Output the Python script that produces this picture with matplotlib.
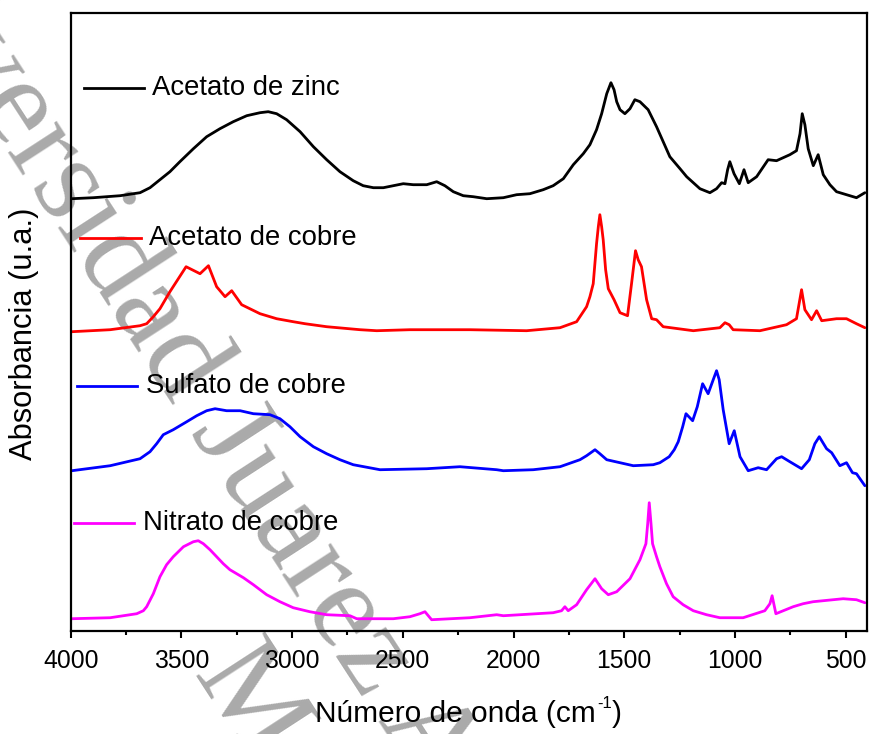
import matplotlib
matplotlib.use("Agg")
import matplotlib.pyplot as plt
from matplotlib.lines import Line2D

plt.rcParams['font.family'] = ['Liberation Sans', 'DejaVu Sans']

# FTIR spectra (stacked, arbitrary units)
zinc_acetate_wn = [3995, 3898, 3777, 3687, 3642, 3597, 3552, 3507, 3446, 3386, 3326, 3266,
                   3205, 3145, 3108, 3070, 3025, 2964, 2904, 2844, 2784, 2724, 2679, 2633,
                   2588, 2543, 2498, 2453, 2392, 2347, 2310, 2272, 2227, 2182, 2121, 2046,
                   1986, 1926, 1866, 1821, 1775, 1730, 1685, 1655, 1625, 1602, 1579, 1560,
                   1546, 1534, 1519, 1497, 1474, 1452, 1429, 1392, 1354, 1324, 1294, 1248,
                   1218, 1158, 1113, 1083, 1060, 1045, 1033, 1023, 1004, 980, 959, 940, 902,
                   850, 812, 752, 722, 706, 696, 684, 669, 646, 624, 601, 571, 541, 481, 451,
                   413]
zinc_acetate_abs = [4.32, 4.33, 4.35, 4.38, 4.43, 4.51, 4.59, 4.69, 4.82, 4.94, 5.02, 5.09,
                    5.15, 5.18, 5.19, 5.17, 5.11, 4.99, 4.84, 4.71, 4.59, 4.50, 4.45, 4.43,
                    4.43, 4.45, 4.47, 4.46, 4.46, 4.49, 4.45, 4.39, 4.35, 4.34, 4.32, 4.33,
                    4.36, 4.37, 4.41, 4.45, 4.52, 4.66, 4.77, 4.86, 5.01, 5.17, 5.37, 5.48,
                    5.41, 5.29, 5.21, 5.17, 5.22, 5.31, 5.29, 5.21, 5.04, 4.89, 4.74, 4.62,
                    4.54, 4.42, 4.38, 4.42, 4.48, 4.47, 4.61, 4.69, 4.57, 4.47, 4.61, 4.48, 4.54,
                    4.71, 4.70, 4.76, 4.80, 4.97, 5.17, 5.06, 4.82, 4.65, 4.76, 4.56, 4.46, 4.39,
                    4.35, 4.33, 4.38]

copper_acetate_wn = [3995, 3822, 3687, 3657, 3627, 3597, 3552, 3514, 3479, 3416, 3378, 3341,
                     3303, 3273, 3228, 3145, 3070, 2995, 2942, 2844, 2693, 2618, 2468, 2197,
                     1941, 1790, 1715, 1670, 1655, 1640, 1625, 1617, 1610, 1602, 1595, 1584,
                     1572, 1546, 1519, 1485, 1467, 1449, 1437, 1422, 1399, 1376, 1354, 1324,
                     1188, 1068, 1045, 1026, 1008, 887, 767, 722, 699, 684, 654, 631, 608,
                     541, 496, 451, 413]
copper_acetate_abs = [2.99, 3.01, 3.05, 3.07, 3.14, 3.22, 3.39, 3.52, 3.64, 3.57, 3.65, 3.44,
                      3.34, 3.40, 3.26, 3.17, 3.12, 3.09, 3.07, 3.04, 3.01, 3.00, 3.01, 3.01,
                      3.00, 3.03, 3.09, 3.24, 3.34, 3.47, 3.87, 4.04, 4.16, 4.04, 3.91, 3.61,
                      3.42, 3.31, 3.18, 3.15, 3.47, 3.80, 3.71, 3.64, 3.31, 3.12, 3.11, 3.04,
                      3.00, 3.03, 3.08, 3.06, 3.01, 3.00, 3.06, 3.12, 3.41, 3.21, 3.11, 3.20,
                      3.10, 3.12, 3.12, 3.07, 3.03]

copper_sulfate_wn = [3995, 3822, 3687, 3642, 3612, 3582, 3537, 3476, 3431, 3386, 3348, 3296,
                     3235, 3175, 3100, 3055, 3010, 2964, 2904, 2844, 2784, 2724, 2603, 2392,
                     2242, 2076, 2046, 1911, 1790, 1700, 1670, 1632, 1610, 1579, 1459, 1369,
                     1339, 1297, 1274, 1256, 1236, 1221, 1191, 1170, 1146, 1121, 1098, 1083,
                     1071, 1053, 1026, 1003, 977, 940, 895, 857, 812, 789, 752, 699, 664, 639,
                     619, 586, 563, 526, 496, 469, 451, 413]
copper_sulfate_abs = [1.60, 1.65, 1.72, 1.79, 1.87, 1.96, 2.01, 2.09, 2.15, 2.20, 2.22, 2.20,
                      2.20, 2.17, 2.16, 2.12, 2.04, 1.94, 1.84, 1.77, 1.71, 1.66, 1.61, 1.62,
                      1.64, 1.61, 1.60, 1.61, 1.64, 1.71, 1.75, 1.81, 1.77, 1.71, 1.65, 1.66,
                      1.68, 1.74, 1.81, 1.89, 2.04, 2.17, 2.10, 2.24, 2.47, 2.37, 2.51, 2.60,
                      2.51, 2.21, 1.87, 2.00, 1.74, 1.60, 1.63, 1.61, 1.72, 1.74, 1.69, 1.62,
                      1.71, 1.87, 1.94, 1.82, 1.78, 1.65, 1.68, 1.58, 1.57, 1.45]

copper_nitrate_wn = [3995, 3822, 3702, 3672, 3657, 3627, 3597, 3567, 3537, 3491, 3446, 3424,
                     3401, 3371, 3341, 3311, 3281, 3220, 3175, 3115, 3055, 2995, 2920, 2844,
                     2739, 2708, 2543, 2468, 2423, 2400, 2370, 2197, 2076, 2046, 1821, 1783,
                     1768, 1753, 1715, 1670, 1632, 1602, 1572, 1534, 1474, 1429, 1402, 1394,
                     1387, 1379, 1372, 1354, 1339, 1309, 1279, 1234, 1188, 1128, 1068, 963,
                     865, 842, 832, 815, 737, 692, 647, 511, 451, 413]
copper_nitrate_abs = [0.12, 0.13, 0.17, 0.20, 0.24, 0.37, 0.54, 0.66, 0.74, 0.84, 0.89, 0.90,
                      0.87, 0.81, 0.74, 0.67, 0.61, 0.53, 0.46, 0.36, 0.29, 0.23, 0.19, 0.16,
                      0.15, 0.12, 0.12, 0.14, 0.17, 0.19, 0.11, 0.13, 0.16, 0.15, 0.18, 0.20,
                      0.24, 0.20, 0.26, 0.41, 0.52, 0.42, 0.36, 0.39, 0.52, 0.71, 0.87, 1.07,
                      1.28, 1.07, 0.87, 0.74, 0.64, 0.47, 0.34, 0.26, 0.20, 0.16, 0.13, 0.13,
                      0.20, 0.27, 0.35, 0.17, 0.24, 0.27, 0.29, 0.32, 0.31, 0.28]

labels = ["Acetato de zinc", "Acetato de cobre", "Sulfato de cobre", "Nitrato de cobre"]
colors = ["#000000", "#ff0000", "#0000ff", "#ff00ff"]
xticks = [4000, 3500, 3000, 2500, 2000, 1500, 1000, 500]

series = [(zinc_acetate_wn, zinc_acetate_abs),
          (copper_acetate_wn, copper_acetate_abs),
          (copper_sulfate_wn, copper_sulfate_abs),
          (copper_nitrate_wn, copper_nitrate_abs)]

W, H = 869, 734
fig = plt.figure(figsize=(W / 100, H / 100), dpi=100)
ax = fig.add_axes([0.0814, 0.1407, 0.9159, 0.842])
ax.patch.set_alpha(0)
renderer = fig.canvas.get_renderer()


def fit_size(txt, span_px, vertical=False):
    """Rescale a text so that its rendered extent spans span_px pixels."""
    bb = txt.get_window_extent(renderer)
    cur = bb.height if vertical else bb.width
    txt.set_fontsize(txt.get_fontsize() * span_px / cur)


# Watermark behind the plot
wm = dict(fontsize=90, family=['Liberation Serif', 'DejaVu Serif'], color='#aaaaaa',
          rotation=-57, rotation_mode='anchor', ha='left', va='baseline', zorder=-5)
fig.text(-0.184, 1.145, "Universidad Juarez Autónoma", **wm)
fig.text(0.22, 0.08, "M", **wm)

for (wn, ab), c in zip(series, colors):
    ax.plot(wn, ab, color=c, lw=2.0, solid_joinstyle='round', solid_capstyle='round')

ax.set_xlim(4000, 405)
ax.set_ylim(0, 6.18)
ax.set_xticks(xticks)
ax.set_xticks(range(3750, 400, -500), minor=True)
ax.set_yticks([])
ax.tick_params(axis='x', which='major', direction='out', length=5, width=1.5,
               labelsize=17.8, pad=8)
ax.tick_params(axis='x', which='minor', direction='out', length=3.2, width=1.5)
for s in ax.spines.values():
    s.set_linewidth(1.6)

# Axis titles
yl = fig.text(24 / W, 1 - 334 / H, "Absorbancia (u.a.)", fontsize=22, rotation=90,
              ha='center', va='center')
fit_size(yl, 252, vertical=True)

xl = fig.text(315 / W, 1 - 721.7 / H, "Número de onda (cm", fontsize=20.4,
              ha='left', va='baseline')
fit_size(xl, 282)
bb = xl.get_window_extent(renderer)
sup = fig.text((bb.x1 + 1.0) / W, 1 - 708 / H, "-1", fontsize=12,
               ha='left', va='baseline')
bb2 = sup.get_window_extent(renderer)
fig.text((bb2.x1 + 0.5) / W, 1 - 721.7 / H, ")", fontsize=xl.get_fontsize(),
         ha='left', va='baseline')

# Per-curve legend keys placed above each spectrum
legend_pos = [(0.0167, 0.0917, 0.878, 0.102),
              (0.0117, 0.0883, 0.635, 0.098),
              (0.0080, 0.0830, 0.396, 0.0946),
              (0.0040, 0.0795, 0.174, 0.091)]
for (x0, x1, y, tx), c, lab in zip(legend_pos, colors, labels):
    ax.add_line(Line2D([x0, x1], [y, y], transform=ax.transAxes, color=c, lw=2.0))
    t = ax.text(tx, y, lab, transform=ax.transAxes, fontsize=19.8, va='center', ha='left')
    if lab == labels[0]:
        fit_size(t, 188)
        legend_size = t.get_fontsize()
    else:
        t.set_fontsize(legend_size)

fig.savefig("out.png", dpi=100)
